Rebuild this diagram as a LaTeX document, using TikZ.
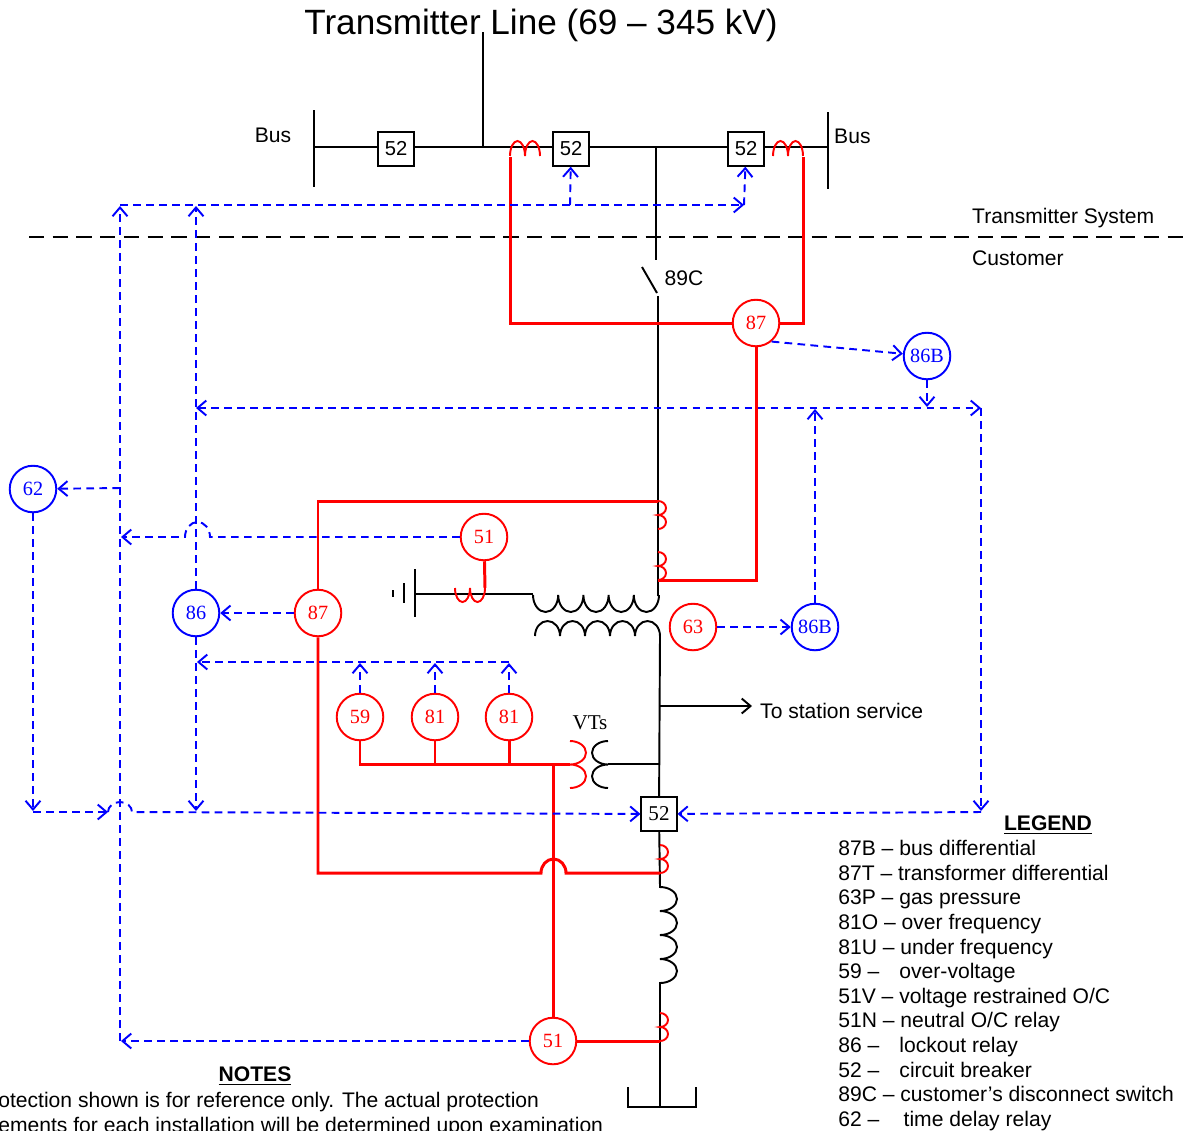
\documentclass[tikz,border=0pt]{standalone}
\usepackage{fontspec}
\setmainfont{Liberation Sans}
\newfontfamily\relayfont{Liberation Serif}
\usetikzlibrary{arrows.meta}

\newcommand{\lgkey}[1]{\makebox[2.9em][l]{#1}}

\tikzset{
  relay/.style={circle, draw, line width=1.1pt, minimum size=26.5pt, inner sep=0pt,
    font=\relayfont\fontsize{11.5}{12}\selectfont},
  redrelay/.style={relay, draw=red, text=red},
  bluerelay/.style={relay, draw=blue, text=blue},
  breaker/.style={draw, line width=1.1pt, fill=white, minimum width=20pt, minimum height=19pt,
    inner sep=0pt, font=\fontsize{11.5}{12}\selectfont},
  trip/.style={blue, line width=1.1pt, dash pattern=on 4.4pt off 3pt},
  ctwire/.style={red, line width=1.7pt},
  ctcoil/.style={red, line width=1.1pt},
  wire/.style={line width=1.1pt},
  lbl/.style={font=\fontsize{12}{14}\selectfont}
}

\begin{document}
\begin{tikzpicture}[x=0.02cm, y=-0.02cm, >={Straight Barb[length=5pt,width=8.5pt]}]
\useasboundingbox (0,0) rectangle (1183,1130);

% transmitter side
\node[font=\fontsize{20}{24}\selectfont] (title) at (541,25) {Transmitter Line (69 – 345 kV)};
\draw[line width=1.6pt] (483,32) -- (483,147);
\draw[line width=1.6pt] (314,110) -- (314,187);
\draw[line width=1.6pt] (828,112) -- (828,189);
\draw[line width=1.3pt] (314,147) -- (828,147);
\node[lbl] (busl) at (273,135) {Bus};
\node[lbl, anchor=west] (busr) at (828,136) {Bus};
\node[breaker] (cb1) at (396,149) {52};
\node[breaker] (cb2) at (571,149) {52};
\node[breaker] (cb3) at (746,149) {52};
\draw[ctcoil] (510,156) arc[start angle=180, end angle=360, x radius=7.5, y radius=15]
  arc[start angle=180, end angle=360, x radius=7.5, y radius=15];
\draw[ctcoil] (773,156) arc[start angle=180, end angle=360, x radius=7.5, y radius=15]
  arc[start angle=180, end angle=360, x radius=7.5, y radius=15];
\draw[line width=1.6pt] (656,147) -- (656,260);
\draw[wire] (642,267) -- (657,293);
\node[lbl] (sw) at (684,278) {89C};

% boundary
\draw[line width=1.1pt, dash pattern=on 8.7pt off 4.8pt] (29,237) -- (1183,237);
\node[lbl, anchor=west] (tsys) at (966,218) {Transmitter System};
\node[lbl, anchor=west] (cust) at (966,258) {Customer};

% relays
\node[redrelay] (r87b) at (756,323) {87};
\node[bluerelay] (r86b) at (927,356) {86B};
\node[bluerelay] (r62) at (33,489) {62};
\node[redrelay] (r51n) at (484,537) {51};
\node[redrelay] (r87t) at (318,613) {87};
\node[bluerelay] (r86) at (196,613) {86};
\node[redrelay] (r63) at (693,627) {63};
\node[bluerelay] (r86t) at (815,627) {86B};
\node[redrelay] (r59) at (360,717) {59};
\node[redrelay] (r81o) at (435,717) {81};
\node[redrelay] (r81u) at (509,717) {81};
\node[redrelay] (r51v) at (553,1041) {51};
\node[breaker, font=\relayfont\fontsize{12}{12}\selectfont] (cb4) at (659,814) {52};

% power path
\draw[wire] (658,296) -- (658,596);
\draw[wire] (533,595) arc[start angle=180, end angle=0, x radius=12.6, y radius=17]
  arc[start angle=180, end angle=0, x radius=12.6, y radius=17]
  arc[start angle=180, end angle=0, x radius=12.6, y radius=17]
  arc[start angle=180, end angle=0, x radius=12.6, y radius=17]
  arc[start angle=180, end angle=0, x radius=12.6, y radius=17];
\draw[wire] (535,636) arc[start angle=180, end angle=360, x radius=12.5, y radius=15]
  arc[start angle=180, end angle=360, x radius=12.5, y radius=15]
  arc[start angle=180, end angle=360, x radius=12.5, y radius=15]
  arc[start angle=180, end angle=360, x radius=12.5, y radius=15]
  arc[start angle=180, end angle=360, x radius=12.5, y radius=15] -- (cb4);
\draw[wire] (415,594) -- (533,594);
\draw[line width=1.6pt] (415,569) -- (415,617);
\draw[line width=1.6pt] (404,583) -- (404,603);
\draw[line width=1.6pt] (393,590) -- (393,597);
\draw[wire, ->] (660,706) -- (752,706);
\node[lbl, anchor=west] (stn) at (754,711) {To station service};
\draw[wire] (cb4) -- (660,887)
  arc[start angle=-90, end angle=90, x radius=17, y radius=12]
  arc[start angle=-90, end angle=90, x radius=17, y radius=12]
  arc[start angle=-90, end angle=90, x radius=17, y radius=12]
  arc[start angle=-90, end angle=90, x radius=17, y radius=12] -- (660,1107);
\draw[line width=1.6pt] (628,1087) -- (628,1107) -- (696,1107) -- (696,1087);

% VTs
\draw[ctcoil] (570,741) arc[start angle=-90, end angle=90, x radius=16, y radius=11.75]
  arc[start angle=-90, end angle=90, x radius=16, y radius=11.75];
\draw[wire] (608,741) arc[start angle=-90, end angle=-270, x radius=16, y radius=11.75]
  arc[start angle=-90, end angle=-270, x radius=16, y radius=11.75];
\draw[wire] (608,764) -- (660,764);
\node[font=\relayfont\fontsize{12}{12}\selectfont] (vts) at (590,723) {VTs};

% current transformers
\draw[ctcoil] (658,501) arc[start angle=-90, end angle=90, x radius=8, y radius=7]
  arc[start angle=-90, end angle=90, x radius=8, y radius=7];
\draw[ctcoil] (658,552) arc[start angle=-90, end angle=90, x radius=8, y radius=7]
  arc[start angle=-90, end angle=90, x radius=8, y radius=7];
\draw[ctcoil] (660,845) arc[start angle=-90, end angle=90, x radius=8, y radius=7]
  arc[start angle=-90, end angle=90, x radius=8, y radius=7];
\draw[ctcoil] (660,1013) arc[start angle=-90, end angle=90, x radius=8, y radius=7]
  arc[start angle=-90, end angle=90, x radius=8, y radius=7];
\draw[ctcoil] (455,588) arc[start angle=180, end angle=0, x radius=7.5, y radius=14]
  arc[start angle=180, end angle=0, x radius=7.5, y radius=14];

% relay wiring
\draw[ctwire] (510,157) -- (510,323) -- (r87b);
\draw[ctwire] (803,157) -- (803,323) -- (r87b);
\draw[ctwire] (r87b) -- (756,580) -- (658,580);
\draw[ctwire] (r87t) -- (318,501) -- (658,501);
\draw[ctwire] (r87t) -- (318,873) -- (541,873)
  arc[start angle=180, end angle=360, x radius=12.5, y radius=14] -- (660,873);
\draw[ctwire] (r51n) -- (485,588);
\draw[ctwire] (r59) -- (360,764) -- (570,764);
\draw[ctwire] (r81o) -- (435,764);
\draw[ctwire] (r81u) -- (509,764);
\draw[ctwire] (553,764) -- (r51v);
\draw[ctwire] (r51v) -- (660,1041);

% tripping
\draw[trip, ->] (120,1041) -- (120,206);
\draw[trip, ->] (120,205) -- (744,205);
\draw[trip, ->] (570,205) -- (cb2);
\draw[trip, ->] (744,205) -- (cb3);
\draw[trip, ->] (r86) -- (196,206);
\draw[trip, ->] (r86) -- (196,811);
\draw[trip, <->] (196,408) -- (981,408);
\draw[trip, ->] (r87b.-50) -- (r86b);
\draw[trip, ->] (r86b) -- (927,407);
\draw[trip, ->] (r86t) -- (815,409);
\draw[trip, ->] (r63) -- (r86t);
\draw[trip, ->] (981,408) -- (981,811);
\draw[trip, ->] (981,812) -- (cb4);
\draw[trip, ->] (120,488) -- (r62);
\draw[trip, ->] (r62) -- (33,811);
\draw[trip, ->] (33,812) -- (108,812);
\draw[trip, ->] (108,812) arc[start angle=180, end angle=360, x radius=12, y radius=10] -- (cb4);
\draw[trip, ->] (r51n) -- (210,537) arc[start angle=0, end angle=-180, x radius=12.5, y radius=15] -- (121,537);
\draw[trip, ->] (r87t) -- (r86);
\draw[trip, ->] (r59) -- (360,663);
\draw[trip, ->] (r81o) -- (435,663);
\draw[trip, ->] (r81u) -- (509,663);
\draw[trip, ->] (509,662) -- (197,662);
\draw[trip, ->] (r51v) -- (121,1041);

% legend and notes
\node[lbl, font=\bfseries\fontsize{12}{14}\selectfont] (leg) at (1048,825) {\underline{LEGEND}};
\node[lbl, anchor=north west, align=left, inner sep=0pt] (legtxt) at (838,840) {%
87B – bus differential\\
87T – transformer differential\\
63P – gas pressure\\
81O – over frequency\\
81U – under frequency\\
\lgkey{59 –}over-voltage\\
51V – voltage restrained O/C\\
51N – neutral O/C relay\\
\lgkey{86 –}lockout relay\\
\lgkey{52 –}circuit breaker\\
89C – customer’s disconnect switch\\
\makebox[3.1em][l]{62 –}time delay relay};
\node[lbl, font=\bfseries\fontsize{12}{14}\selectfont] (notes) at (255,1076) {\underline{NOTES}};
\node[lbl, anchor=north west, align=left, inner sep=0pt] (notetxt) at (-2,1092) {%
otection shown is for reference only. The actual protection\\
ements for each installation will be determined upon examination};
\end{tikzpicture}
\end{document}
